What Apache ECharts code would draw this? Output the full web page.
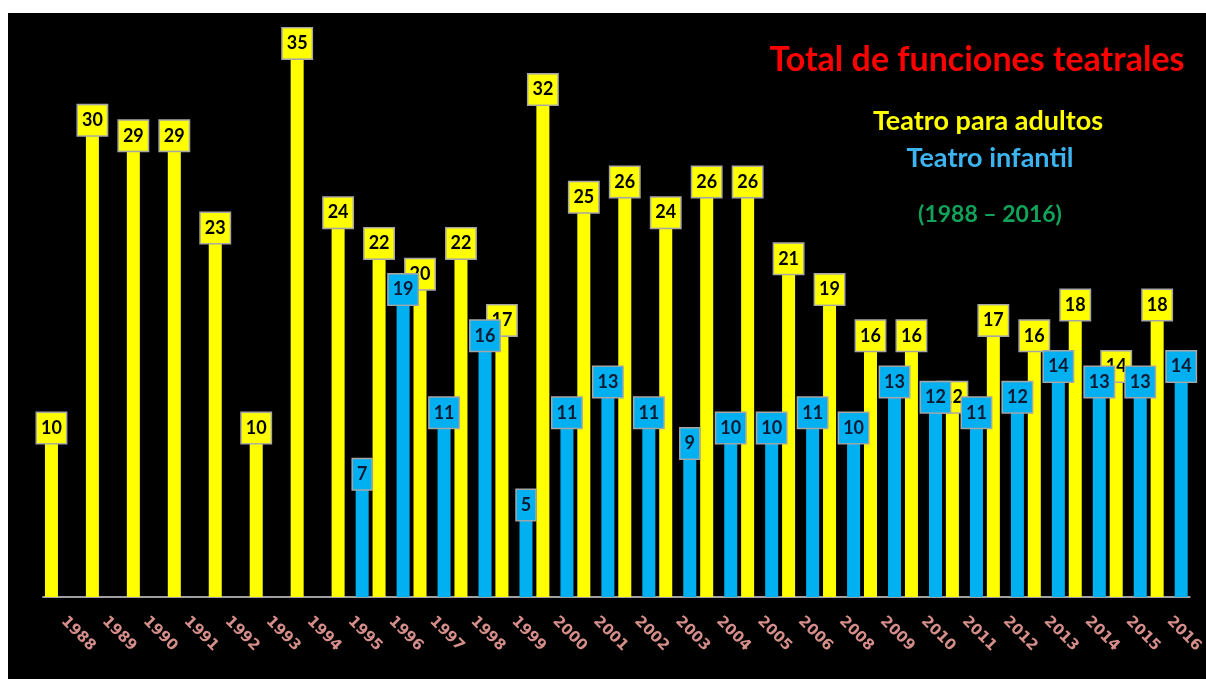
<!DOCTYPE html>
<html>
<head>
<meta charset="utf-8">
<script src="https://cdn.jsdelivr.net/npm/echarts@6/dist/echarts.min.js"></script>
<style>
  html, body { margin: 0; padding: 0; background: #ffffff; }
  #chart { position: absolute; left: 8px; top: 13px; width: 1198px; height: 666px; background: #000000; }
</style>
</head>
<body>
<div id="chart"></div>
<script>
// Years with data (2007 has no record)
const years = ['1988', '1989', '1990', '1991', '1992', '1993', '1994', '1995', '1996', '1997',
  '1998', '1999', '2000', '2001', '2002', '2003', '2004', '2005', '2006', '2008',
  '2009', '2010', '2011', '2012', '2013', '2014', '2015', '2016'];

// Teatro para adultos
const adultos = [10, 30, 29, 29, 23, 10, 35, 24, 22, 20,
  22, 17, 32, 25, 26, 24, 26, 26, 21, 19,
  16, 16, 12, 17, 16, 18, 14, 18];

// Teatro infantil (no functions recorded before 1995)
const infantil = [null, null, null, null, null, null, null, 7, 19, 11,
  16, 5, 11, 13, 11, 9, 10, 10, 11, 10,
  13, 12, 11, 12, 14, 13, 13, 14];

const YELLOW = '#ffff00';
const BLUE = '#00b0f0';

function boxLabel(bg, textColor) {
  return {
    show: true,
    position: 'top',
    distance: 0,
    color: textColor,
    fontFamily: 'Lato',
    fontWeight: 'bold',
    fontSize: 18,
    lineHeight: 18,
    backgroundColor: bg,
    borderColor: '#a6a6a6',
    borderWidth: 1.5,
    padding: [6, 4, 6, 4]
  };
}

const chart = echarts.init(document.getElementById('chart'));
chart.setOption({
  backgroundColor: '#000000',
  animation: false,
  title: [
    { text: 'Total de funciones teatrales', left: 964, top: 25, textAlign: 'center',
      textStyle: { color: '#ff0000', fontFamily: 'Lato', fontWeight: 'bold', fontSize: 34 } },
    { text: 'Teatro para adultos', left: 975, top: 90, textAlign: 'center',
      textStyle: { color: '#ffff00', fontFamily: 'Lato', fontWeight: 'bold', fontSize: 27 } },
    { text: 'Teatro infantil', left: 977, top: 127, textAlign: 'center',
      textStyle: { color: '#3cb4f0', fontFamily: 'Lato', fontWeight: 'bold', fontSize: 27 } },
    { text: '(1988 – 2016)', left: 977, top: 185, textAlign: 'center',
      textStyle: { color: '#12a35a', fontFamily: 'Lato', fontWeight: 'bold', fontSize: 23 } }
  ],
  grid: { left: 35, right: 9, top: 30, bottom: 82, containLabel: false },
  xAxis: {
    type: 'category',
    data: years,
    axisLine: { show: true, lineStyle: { color: '#a0a0a0', width: 2 } },
    axisTick: { show: false },
    axisLabel: {
      rotate: -45,
      margin: 22,
      interval: 0,
      color: '#d58e89',
      fontFamily: 'DejaVu Sans',
      fontWeight: 'bold',
      fontSize: 15
    }
  },
  yAxis: {
    type: 'value',
    min: 0,
    max: 36,
    show: false,
    splitLine: { show: false }
  },
  series: [
    {
      name: 'Teatro para adultos',
      type: 'bar',
      data: adultos,
      barWidth: 13,
      barGap: '85%',
      itemStyle: { color: YELLOW },
      label: boxLabel(YELLOW, '#000000')
    },
    {
      name: 'Teatro infantil',
      type: 'bar',
      data: infantil,
      barWidth: 13,
      barGap: '85%',
      itemStyle: { color: BLUE },
      label: boxLabel(BLUE, '#0d1a33')
    }
  ]
});
</script>
</body>
</html>
